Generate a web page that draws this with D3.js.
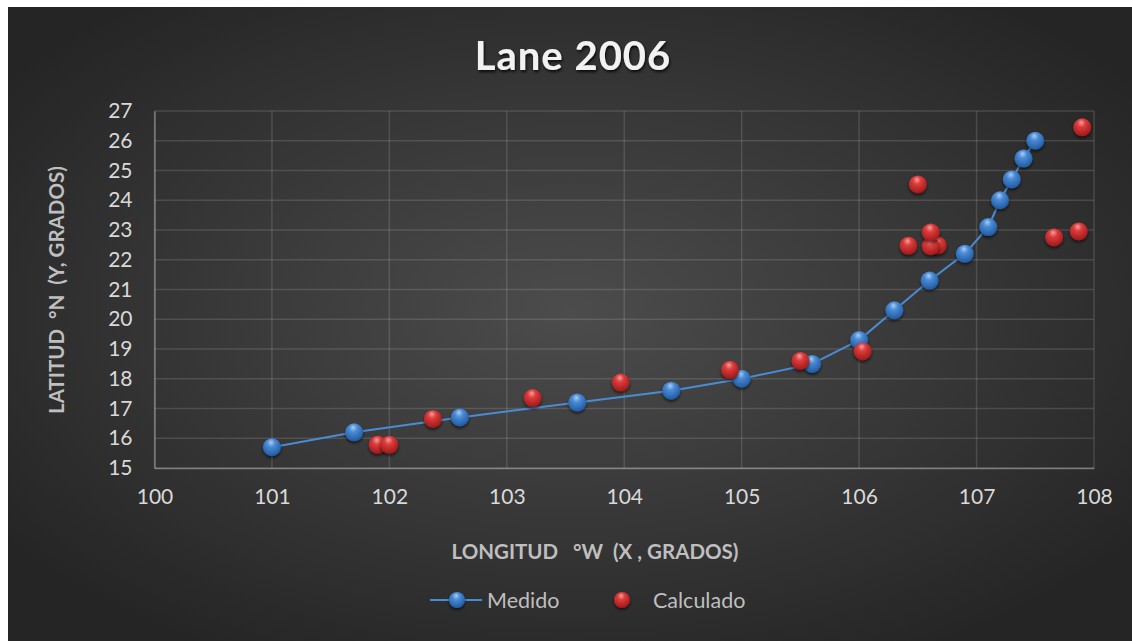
<!DOCTYPE html>
<html>
<head>
<meta charset="utf-8">
<script src="https://cdn.jsdelivr.net/npm/d3@7"></script>
<style>
  body { margin: 0; background: #fff; }
  svg text { font-family: Lato, "Open Sans", sans-serif; }
</style>
</head>
<body>
<div id="vis"></div>
<script>
// data
let medidoLon = [101.0, 101.7, 102.6, 103.6, 104.4, 105.0, 105.6, 106.0, 106.3, 106.6, 106.9, 107.1, 107.2, 107.3, 107.4, 107.5];
let medidoLat = [15.7, 16.2, 16.7, 17.2, 17.6, 18.0, 18.5, 19.3, 20.3, 21.3, 22.2, 23.1, 24.0, 24.7, 25.4, 26.0];
let calcLon = [101.9, 102.0, 102.37, 103.22, 103.97, 104.9, 105.5, 106.03, 106.42, 106.5, 106.67, 106.61, 106.61, 107.66, 107.87, 107.9];
let calcLat = [15.78, 15.78, 16.65, 17.35, 17.87, 18.3, 18.6, 18.92, 22.47, 24.53, 22.48, 22.45, 22.92, 22.75, 22.95, 26.45];
let xTicks = [100, 101, 102, 103, 104, 105, 106, 107, 108];
let yTicks = [15, 16, 17, 18, 19, 20, 21, 22, 23, 24, 25, 26, 27];

let width = 1132, height = 641;
let margin = {top: 111, bottom: 173, left: 154.5, right: 38};

let svg = d3.select("#vis").append("svg")
    .attr("width", width)
    .attr("height", height);

let defs = svg.append("defs");

let bg = defs.append("radialGradient")
    .attr("id", "bg")
    .attr("cx", "50%").attr("cy", "48%").attr("r", "62%");
bg.append("stop").attr("offset", "0%").attr("stop-color", "#4c4c4c");
bg.append("stop").attr("offset", "100%").attr("stop-color", "#252525");

function ball(id, light, mid, dark) {
  let g = defs.append("radialGradient")
      .attr("id", id)
      .attr("cx", "45%").attr("cy", "35%").attr("r", "65%")
      .attr("fx", "45%").attr("fy", "22%");
  g.append("stop").attr("offset", "0%").attr("stop-color", light);
  g.append("stop").attr("offset", "35%").attr("stop-color", mid);
  g.append("stop").attr("offset", "100%").attr("stop-color", dark);
}
ball("blueBall", "#a9cdf2", "#4a8bd6", "#1f5aa0");
ball("redBall", "#f3a0a0", "#de3b3b", "#9c1a1a");

let shadow = defs.append("filter").attr("id", "shadow")
    .attr("x", "-50%").attr("y", "-50%").attr("width", "200%").attr("height", "200%");
shadow.append("feDropShadow")
    .attr("dx", 0).attr("dy", 2).attr("stdDeviation", 1.5)
    .attr("flood-color", "#000").attr("flood-opacity", 0.6);

let titleShadow = defs.append("filter").attr("id", "tshadow");
titleShadow.append("feDropShadow")
    .attr("dx", 1).attr("dy", 2).attr("stdDeviation", 1.5)
    .attr("flood-color", "#000").attr("flood-opacity", 0.8);

svg.append("rect")
    .attr("x", 8).attr("y", 7)
    .attr("width", width - 8).attr("height", height - 7)
    .attr("fill", "url(#bg)");

let x = d3.scaleLinear().domain([100, 108]).range([margin.left, width - margin.right]);
let y = d3.scaleLinear().domain([15, 27]).range([height - margin.bottom, margin.top]);

// grid
let grid = svg.append("g").attr("stroke", "#d9d9d9").attr("stroke-opacity", 0.16).attr("stroke-width", 1.5);
grid.selectAll(".gx").data(xTicks).join("line")
    .attr("x1", d => x(d)).attr("x2", d => x(d))
    .attr("y1", y(15)).attr("y2", y(27));
grid.selectAll(".gy").data(yTicks).join("line")
    .attr("x1", x(100)).attr("x2", x(108))
    .attr("y1", d => y(d)).attr("y2", d => y(d));

// axes
let xAxis = svg.append("g")
    .attr("transform", "translate(0," + y(15) + ")")
    .call(d3.axisBottom(x).tickValues(xTicks).tickSize(0).tickPadding(21))
    .call(g => g.select(".domain").attr("stroke", "#d9d9d9").attr("stroke-opacity", 0.4).attr("stroke-width", 1.5));
let yAxis = svg.append("g")
    .attr("transform", "translate(" + x(100) + ",0)")
    .call(d3.axisLeft(y).tickValues(yTicks).tickSize(0).tickPadding(22))
    .call(g => g.select(".domain").attr("stroke", "#d9d9d9").attr("stroke-opacity", 0.4).attr("stroke-width", 1.5));
svg.selectAll(".tick text")
    .attr("fill", "#d9d9d9")
    .attr("font-size", 21)
    .attr("font-family", "Lato, sans-serif");

// title
svg.append("text")
    .attr("x", 573).attr("y", 70)
    .attr("text-anchor", "middle")
    .attr("font-size", 40).attr("font-weight", "bold")
    .attr("letter-spacing", 1)
    .attr("fill", "#f2f2f2")
    .attr("filter", "url(#tshadow)")
    .text("Lane 2006");

// axis titles
svg.append("text")
    .attr("x", 595).attr("y", 559)
    .attr("text-anchor", "middle")
    .attr("font-size", 20.5).attr("font-weight", "bold")
    .attr("fill", "#bfbfbf")
    .style("white-space", "pre")
    .text("LONGITUD   °W  (X , GRADOS)");
svg.append("text")
    .attr("transform", "translate(64,290) rotate(-90)")
    .attr("text-anchor", "middle")
    .attr("font-size", 20.5).attr("font-weight", "bold")
    .attr("fill", "#bfbfbf")
    .style("white-space", "pre")
    .text("LATITUD  °N  (Y, GRADOS)");

// medido line + points
let medido = d3.zip(medidoLon, medidoLat);
let calc = d3.zip(calcLon, calcLat);

svg.append("path")
    .datum(medido)
    .attr("fill", "none")
    .attr("stroke", "#4a8bd6")
    .attr("stroke-width", 2)
    .attr("d", d3.line().x(d => x(d[0])).y(d => y(d[1])));

svg.append("g").selectAll("circle").data(medido).join("circle")
    .attr("cx", d => x(d[0])).attr("cy", d => y(d[1]))
    .attr("r", 9)
    .attr("fill", "url(#blueBall)")
    .attr("filter", "url(#shadow)");

svg.append("g").selectAll("circle").data(calc).join("circle")
    .attr("cx", d => x(d[0])).attr("cy", d => y(d[1]))
    .attr("r", 9)
    .attr("fill", "url(#redBall)")
    .attr("filter", "url(#shadow)");

// legend
let legend = svg.append("g");
legend.append("line")
    .attr("x1", 430).attr("x2", 482).attr("y1", 600).attr("y2", 600)
    .attr("stroke", "#4a8bd6").attr("stroke-width", 2);
legend.append("circle").attr("cx", 457).attr("cy", 600).attr("r", 8)
    .attr("fill", "url(#blueBall)").attr("filter", "url(#shadow)");
legend.append("text").attr("x", 487).attr("y", 608)
    .attr("font-size", 21.5).attr("fill", "#bfbfbf").text("Medido");
legend.append("circle").attr("cx", 622).attr("cy", 600).attr("r", 8)
    .attr("fill", "url(#redBall)").attr("filter", "url(#shadow)");
legend.append("text").attr("x", 653).attr("y", 608)
    .attr("font-size", 21.5).attr("fill", "#bfbfbf").text("Calculado");
</script>
</body>
</html>
